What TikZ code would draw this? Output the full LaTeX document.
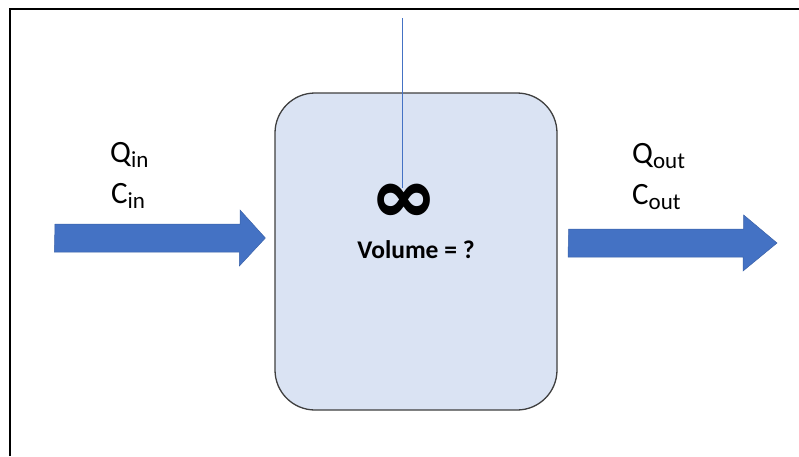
\documentclass[tikz,border=0pt]{standalone}
\usepackage{fontspec}
\setmainfont{Carlito}
\usetikzlibrary{positioning,calc}
\definecolor{flowblue}{HTML}{4472C4}
\definecolor{tankfill}{HTML}{DAE3F3}
\definecolor{tankedge}{HTML}{3F3F3F}

% flow label with a lowered, smaller subscript
\newcommand{\flowsub}[2]{#1\raisebox{-5pt}{\fontsize{23}{23}\selectfont #2}}

\begin{document}
\begin{tikzpicture}[x=1pt, y=-1pt,
    tank/.style={draw=tankedge, line width=1.3pt, fill=tankfill,
      rounded corners=40pt, minimum width=282pt, minimum height=317pt, inner sep=0pt},
    flowlabel/.style={anchor=base west, inner sep=0pt, font=\fontsize{31}{31}\selectfont},
    flowarrow/.style={fill=flowblue, draw=flowblue!85!black, line width=0.5pt}]
  \useasboundingbox (0,0) rectangle (799,456);
  % frame (only top and left edges fall inside the picture)
  \draw[line width=1.8pt] (10,456) -- (10,9) -- (799,9);
  % mixing tank
  \node[tank] (tank) at (416,251.5) {};
  \node[inner sep=0pt, anchor=base, yscale=1.35, font=\bfseries\fontsize{68}{68}\selectfont]
    (inf) at (404,225) {\raisebox{0pt}[0pt][0pt]{∞}};
  \node[inner sep=0pt, anchor=base, font=\bfseries\fontsize{25.5}{25.5}\selectfont]
    (vol) at (416,258) {Volume = ?};
  % stirrer shaft
  \coordinate (shafttop) at (402,18);
  \draw[flowblue, line width=0.8pt] (shafttop) -- (shafttop |- 0,188);
  % inflow arrow
  \coordinate (intail) at (55,238);
  \coordinate (intip) at ([xshift=-9pt]tank.west |- intail);
  \filldraw[flowarrow] ($(intail)+(0,-14)$) -- ++(185,0) -- ++(0,-14) -- (intip)
    -- ++(-26,28) -- ++(0,-14) -- ++(-185,0) -- cycle;
  % outflow arrow
  \coordinate (outtail) at ([xshift=11pt]tank.east |- 0,243);
  \coordinate (outtip) at (777,243);
  \filldraw[flowarrow] ($(outtail)+(0,-14)$) -- ++(175,0) -- ++(0,-14) -- (outtip)
    -- ++(-34,28) -- ++(0,-14) -- ++(-175,0) -- cycle;
  % labels
  \node[flowlabel] (qin) at (110,162) {\flowsub{Q}{in}};
  \node[flowlabel] (cin) at (111,203) {\flowsub{C}{in}};
  \node[flowlabel] (qout) at (632,163) {\flowsub{Q}{out}};
  \node[flowlabel] (cout) at (632,204) {\flowsub{C}{out}};
\end{tikzpicture}
\end{document}
